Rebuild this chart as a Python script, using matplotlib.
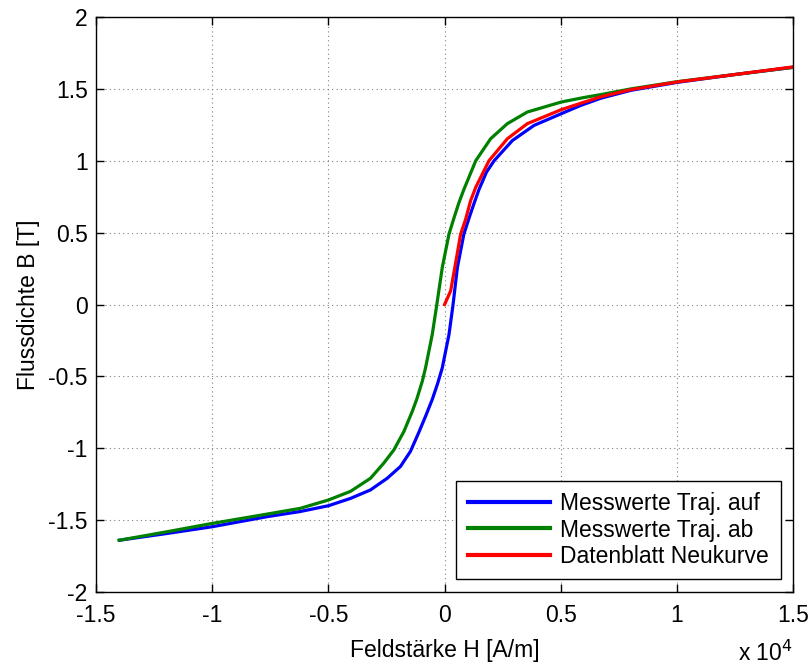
import matplotlib
matplotlib.use("Agg")
import matplotlib.pyplot as plt
from matplotlib.ticker import FuncFormatter

plt.rcParams['font.family'] = ['Liberation Sans', 'DejaVu Sans']
plt.rcParams['axes.unicode_minus'] = False

# H in units of 10^4 A/m, B in T
blue_x = [-1.40, -1.195, -1.0, -0.764, -0.621, -0.5, -0.405, -0.319, -0.247, -0.19, -0.147, -0.111,
          -0.08, -0.053, -0.03, -0.01, 0.019, 0.036, 0.055, 0.083, 0.105, 0.126, 0.148, 0.18, 0.213,
          0.292, 0.385, 0.503, 0.586, 0.672, 0.802, 1.0, 1.25, 1.5]
blue_y = [-1.64, -1.593, -1.546, -1.476, -1.44, -1.40, -1.349, -1.29, -1.209, -1.127, -1.022, -0.89,
          -0.77, -0.66, -0.55, -0.441, -0.208, -0.006, 0.257, 0.49, 0.60, 0.70, 0.80, 0.92, 1.0,
          1.141, 1.246, 1.328, 1.385, 1.435, 1.49, 1.545, 1.60, 1.65]

green_x = [-1.40, -1.195, -1.0, -0.764, -0.621, -0.5, -0.405, -0.319, -0.262, -0.218, -0.175, -0.139,
           -0.12, -0.096, -0.082, -0.053, -0.034, -0.01, 0.019, 0.04, 0.062, 0.083, 0.134, 0.198,
           0.27, 0.356, 0.503, 0.6, 0.672, 0.802, 1.0, 1.25, 1.5]
green_y = [-1.64, -1.581, -1.523, -1.458, -1.418, -1.36, -1.30, -1.209, -1.104, -1.011, -0.883, -0.743,
           -0.66, -0.534, -0.441, -0.208, -0.006, 0.257, 0.49, 0.60, 0.71, 0.80, 1.0, 1.153,
           1.258, 1.339, 1.409, 1.44, 1.46, 1.50, 1.55, 1.60, 1.65]

red_x = [0.0, 0.026, 0.044, 0.069, 0.09, 0.112, 0.134, 0.191, 0.27, 0.356, 0.503, 0.586, 0.672,
         0.802, 1.0, 1.25, 1.5]
red_y = [0.0, 0.094, 0.257, 0.49, 0.59, 0.722, 0.815, 1.0, 1.153, 1.258, 1.356, 1.40, 1.445,
         1.495, 1.548, 1.60, 1.653]

labels = ["Messwerte Traj. auf", "Messwerte Traj. ab", "Datenblatt Neukurve"]
x_ticks = [-1.5, -1, -0.5, 0, 0.5, 1, 1.5]
y_ticks = [-2, -1.5, -1, -0.5, 0, 0.5, 1, 1.5, 2]

FS = 16.5

fig = plt.figure(figsize=(8.11, 6.66), dpi=100)
ax = fig.add_axes([0.1184, 74 / 666, 0.978 - 0.1184, (592 - 17) / 666])

ax.plot(blue_x, blue_y, color=(0, 0, 1), lw=2.3, label=labels[0], solid_joinstyle='round')
ax.plot(green_x, green_y, color=(0, 0.5, 0), lw=2.3, label=labels[1], solid_joinstyle='round')
ax.plot(red_x, red_y, color=(1, 0, 0), lw=2.3, label=labels[2], solid_joinstyle='round')

ax.set_xlim(-1.5, 1.5)
ax.set_ylim(-2, 2)
ax.set_xticks(x_ticks)
ax.set_yticks(y_ticks)
fmt = FuncFormatter(lambda v, p: "%g" % v)
ax.xaxis.set_major_formatter(fmt)
ax.yaxis.set_major_formatter(fmt)
ax.tick_params(direction='in', top=True, right=True, length=6, width=1, labelsize=FS)
ax.tick_params(axis='x', pad=8.5)
ax.tick_params(axis='y', pad=6)
ax.grid(True, linestyle=(0, (1, 3)), color='#808080', linewidth=0.8)
for s in ax.spines.values():
    s.set_linewidth(1.0)

ax.set_xlabel("Feldstärke H [A/m]", fontsize=FS, labelpad=9)
ax.set_ylabel("Flussdichte B [T]", fontsize=FS, labelpad=6)
fig.text(793 / 811, 5 / 666, "x 10$^4$", ha='right', va='baseline', fontsize=FS)

leg = ax.legend(loc='lower right', fontsize=FS, handlelength=3.6, fancybox=False,
                edgecolor='black', framealpha=1, borderaxespad=0.55, labelspacing=0.15,
                handletextpad=0.45, borderpad=0.5)
leg.get_frame().set_linewidth(1.0)
for l in leg.get_lines():
    l.set_linewidth(3)

fig.savefig("out.png", dpi=100)
